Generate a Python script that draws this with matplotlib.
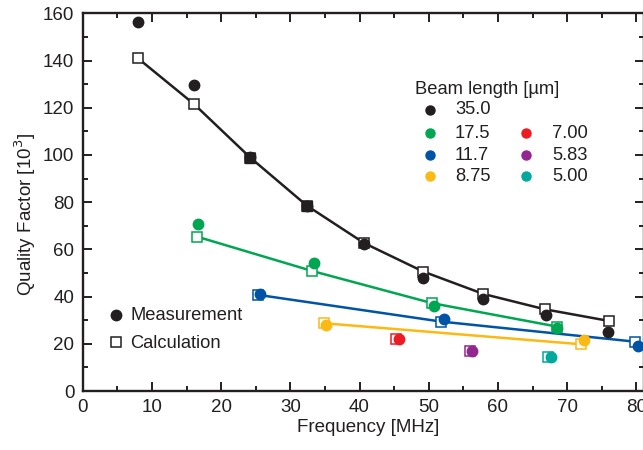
import matplotlib
matplotlib.use("Agg")
import matplotlib.pyplot as plt
from matplotlib.ticker import MultipleLocator

plt.rcParams['font.family'] = ['Liberation Sans', 'DejaVu Sans']

# ---- data (frequency in MHz, quality factor in 10^3) ----
beam_lengths = ["35.0", "17.5", "11.7", "8.75", "7.00", "5.83", "5.00"]
colors = ["#231f20", "#00a651", "#0054a6", "#fdb913", "#ed1c24", "#92278f", "#00a99d"]

meas_f = [
    [8.0, 16.1, 24.2, 32.4, 40.7, 49.2, 57.9, 66.9, 75.9],
    [16.6, 33.4, 50.7, 68.6],
    [25.6, 52.2, 80.3],
    [35.2, 72.5],
    [45.7],
    [56.2],
    [67.6],
]
meas_q = [
    [156.4, 129.7, 99.2, 78.4, 62.3, 47.7, 38.9, 32.2, 25.1],
    [70.8, 54.1, 36.0, 26.6],
    [41.1, 30.5, 19.2],
    [28.0, 21.6],
    [22.2],
    [17.1],
    [14.3],
]
calc_f = [
    [8.0, 16.1, 24.2, 32.4, 40.7, 49.2, 57.9, 66.8, 76.0],
    [16.5, 33.2, 50.5, 68.5],
    [25.4, 51.8, 79.8],
    [34.9, 72.0],
    [45.2],
    [55.9],
    [67.3],
]
calc_q = [
    [140.9, 121.5, 98.9, 78.5, 62.6, 50.6, 41.1, 34.6, 29.7],
    [65.4, 50.8, 37.2, 27.3],
    [40.7, 29.4, 20.9],
    [28.7, 19.8],
    [21.9],
    [17.1],
    [14.4],
]

W, H = 643, 450
fig = plt.figure(figsize=(W / 100, H / 100), dpi=100)
ax_left, ax_right, ax_top, ax_bot = 82.7, 644.0, 13.3, 391.0
ax = fig.add_axes([ax_left / W, 1 - ax_bot / H, (ax_right - ax_left) / W, (ax_bot - ax_top) / H])
ax.set_xlim(0, 81.1)
ax.set_ylim(0, 160)

for i in range(len(beam_lengths)):
    c = colors[i]
    if len(calc_f[i]) > 1:
        ax.plot(calc_f[i], calc_q[i], '-', color=c, lw=1.8, zorder=2)
    ax.plot(calc_f[i], calc_q[i], 's', mfc='white', mec=c, mew=1.1, ms=6.8, zorder=3, ls='none')
    ax.plot(meas_f[i], meas_q[i], 'o', color=c, ms=7.5, zorder=4, ls='none')

# filled squares in black series where circles overlap (as in reference)
for j in (2, 3):
    ax.plot([calc_f[0][j]], [calc_q[0][j]], 's', color=colors[0], ms=7.2, zorder=5)

ax.xaxis.set_major_locator(MultipleLocator(10))
ax.xaxis.set_minor_locator(MultipleLocator(5))
ax.yaxis.set_major_locator(MultipleLocator(20))
ax.yaxis.set_minor_locator(MultipleLocator(10))
ax.tick_params(which='both', direction='in', top=True, right=True, width=1.4, colors='#231f20',
               labelsize=13.5, labelcolor='#231f20')
ax.tick_params(which='major', length=6.5)
ax.tick_params(axis='x', which='major', pad=5.5)
ax.tick_params(axis='y', which='major', pad=6)
ax.tick_params(which='minor', length=3.5)
for s in ax.spines.values():
    s.set_linewidth(1.7)
    s.set_color('#231f20')

fig.text(368 / W, 1 - 428 / H, "Frequency [MHz]", ha='center', va='center', fontsize=13.5, color='#231f20')
fig.text(25 / W, 1 - 215 / H, r"Quality Factor [10$^3$]", ha='center', va='center', rotation=90,
         fontsize=13.5, color='#231f20')

def px(x, y):
    return (x / W, 1 - y / H)

# Measurement / Calculation key
fig.lines.append(plt.Line2D([116 / W], [1 - 315 / H], marker='o', color='#231f20', ms=7.5,
                            transform=fig.transFigure, ls='none'))
fig.lines.append(plt.Line2D([116 / W], [1 - 342 / H], marker='s', mfc='white', mec='#231f20', mew=1.1,
                            ms=6.8, transform=fig.transFigure, ls='none'))
fig.text(*px(130, 315), "Measurement", ha='left', va='center', fontsize=13.2, color='#231f20')
fig.text(*px(130, 343), "Calculation", ha='left', va='center', fontsize=13.2, color='#231f20')

# Beam length key
fig.text(*px(415, 90), "Beam length [µm]", ha='left', va='center', fontsize=13.2, color='#231f20')
rows_y = [110, 133, 155, 176]
slots = [(0, 0), (0, 1), (0, 2), (0, 3), (1, 1), (1, 2), (1, 3)]
col_mx = [430, 526]
col_tx = [455, 552]
for i, (col, row) in enumerate(slots):
    fig.lines.append(plt.Line2D([col_mx[col] / W], [1 - rows_y[row] / H], marker='o', color=colors[i],
                                ms=6.5, transform=fig.transFigure, ls='none'))
    fig.text(*px(col_tx[col], rows_y[row]), beam_lengths[i], ha='left', va='center', fontsize=13.2,
             color='#231f20')

fig.savefig("out.png", dpi=100)
